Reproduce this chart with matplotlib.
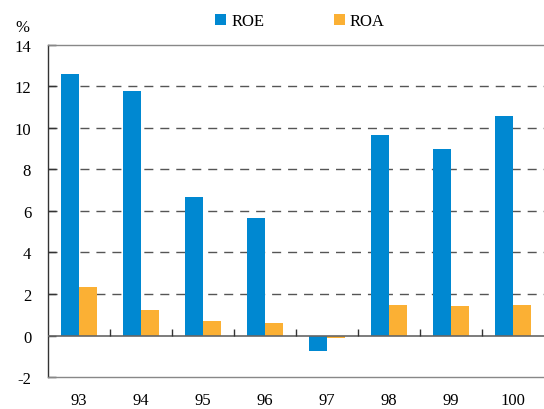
import numpy as np
import matplotlib.pyplot as plt

plt.rcParams['font.family'] = ['Liberation Serif', 'DejaVu Serif']

years = ["93", "94", "95", "96", "97", "98", "99", "100"]
roe = [12.58, 11.80, 6.67, 5.66, -0.76, 9.66, 8.99, 10.58]
roa = [2.36, 1.25, 0.72, 0.58, -0.13, 1.45, 1.40, 1.49]

BLUE = "#0088d1"
ORANGE = "#fbb034"

fig = plt.figure(figsize=(5.44, 4.10), dpi=100)
ax = fig.add_axes([0.088, 0.078, 0.912, 0.81])

x = np.arange(len(years))
w = 0.29
ax.bar(x - w / 2, roe, width=w, color=BLUE, zorder=3, label="ROE")
ax.bar(x + w / 2, roa, width=w, color=ORANGE, zorder=3, label="ROA")

ax.set_xlim(-0.5, len(years) - 0.5)
ax.set_ylim(-2, 14)
ax.set_yticks(range(-2, 15, 2))
ax.set_yticklabels([str(v) for v in range(-2, 15, 2)])

# dashed grid between the axis lines
for y in range(2, 14, 2):
    ax.axhline(y, color="#555555", lw=1.0, dashes=(6.5, 5), zorder=1)

# zero line with separators between the year groups
ax.axhline(0, color="#666666", lw=1.2, zorder=4)
ax.vlines(x[:-1] + 0.5, 0, 0.3, color="#333333", lw=1.0, zorder=4)

ax.spines["right"].set_visible(False)
ax.spines["left"].set_color("#333333")
ax.spines["top"].set_color("#888888")
ax.spines["bottom"].set_color("#888888")
for s in ax.spines.values():
    s.set_linewidth(1.0)

ax.tick_params(axis="y", direction="in", length=6, width=1.0,
               color="#333333", labelsize=12, pad=12)
ax.set_xticks(x)
ax.set_xticklabels(years)
ax.tick_params(axis="x", length=0, labelsize=12, pad=11)

fig.text(0.029, 1 - 26 / 410, "%", fontsize=12, ha="left", va="center_baseline")

ax.legend(loc="center", bbox_to_anchor=(300 / 544, 1 - 22 / 410),
          bbox_transform=fig.transFigure, ncol=2, frameon=False, fontsize=12,
          handlelength=0.65, handleheight=0.65, handletextpad=0.3,
          columnspacing=4.2, borderpad=0)

fig.savefig("out.png", dpi=100)
